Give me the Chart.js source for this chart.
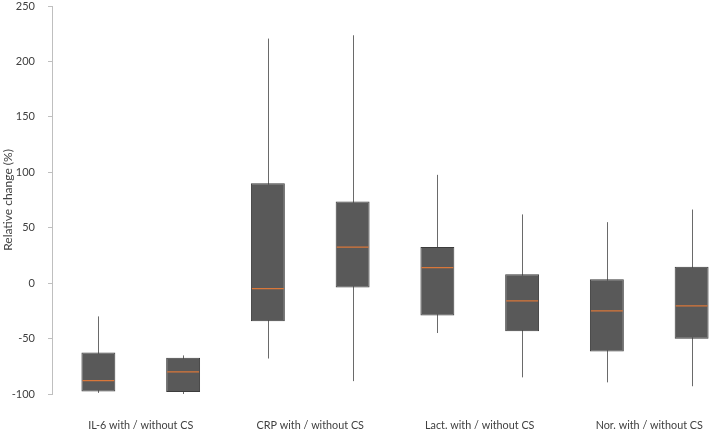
<!DOCTYPE html>
<html>
<head>
<meta charset="utf-8">
<script src="https://cdn.jsdelivr.net/npm/chart.js@4"></script>
<style>
  html, body { margin: 0; padding: 0; background: #fff; overflow: hidden; }
  #wrap { width: 710px; height: 432px; overflow: hidden; }
</style>
</head>
<body>
<div id="wrap"><canvas id="chart" width="734" height="432"></canvas></div>
<script>
const categories = ['IL-6 with / without CS', 'CRP with / without CS', 'Lact. with / without CS', 'Nor. with / without CS'];

// with CS
const withMin    = [-99, -68, -45, -89.5];
const withQ1     = [-97.7, -34.3, -29.1, -61.6];
const withMedian = [-88, -5, 14, -25];
const withQ3     = [-62.5, 90, 32.7, 3.6];
const withMax    = [-30, 220.6, 97.7, 55];

// without CS
const withoutMin    = [-100, -88.4, -85, -93];
const withoutQ1     = [-98.3, -3.9, -43.3, -50.2];
const withoutMedian = [-80, 32.5, -16, -20.5];
const withoutQ3     = [-67.3, 73.7, 8.1, 14.7];
const withoutMax    = [-65.2, 223.6, 62, 66.4];

const yTicks = [-100, -50, 0, 50, 100, 150, 200, 250];

const stats = [
    { min: withMin, median: withMedian, max: withMax },
    { min: withoutMin, median: withoutMedian, max: withoutMax }
];

// whiskers behind the boxes, medians on top
const boxPlot = {
    id: 'boxPlot',
    afterLayout(chart) {
        // axis line sits a few px left of where the first category starts
        const y = chart.scales.y;
        y.left -= 4;
        y.right -= 4;
    },
    beforeDatasetsDraw(chart) {
        const ctx = chart.ctx, y = chart.scales.y;
        ctx.save();
        ctx.strokeStyle = '#6a6a6a';
        ctx.lineWidth = 1;
        stats.forEach((s, d) => {
            chart.getDatasetMeta(d).data.forEach((bar, i) => {
                const x = Math.round(bar.x) + 0.5;
                ctx.beginPath();
                ctx.moveTo(x, y.getPixelForValue(s.max[i]));
                ctx.lineTo(x, y.getPixelForValue(s.min[i]));
                ctx.stroke();
            });
        });
        ctx.restore();
    },
    afterDatasetsDraw(chart) {
        const ctx = chart.ctx, y = chart.scales.y;
        ctx.save();
        ctx.strokeStyle = '#d9773a';
        ctx.lineWidth = 1.2;
        stats.forEach((s, d) => {
            chart.getDatasetMeta(d).data.forEach((bar, i) => {
                const py = y.getPixelForValue(s.median[i]);
                ctx.beginPath();
                ctx.moveTo(bar.x - bar.width / 2 + 1, py);
                ctx.lineTo(bar.x + bar.width / 2 - 1, py);
                ctx.stroke();
            });
        });
        ctx.restore();
    }
};

new Chart(document.getElementById('chart'), {
    type: 'bar',
    data: {
        labels: categories,
        datasets: [
            {
                label: 'with CS',
                data: withQ1.map((v, i) => [v, withQ3[i]]),
                backgroundColor: '#595959',
                borderColor: '#3c3c3c',
                borderWidth: 1,
                borderSkipped: false
            },
            {
                label: 'without CS',
                data: withoutQ1.map((v, i) => [v, withoutQ3[i]]),
                backgroundColor: '#595959',
                borderColor: '#3c3c3c',
                borderWidth: 1,
                borderSkipped: false
            }
        ]
    },
    options: {
        responsive: false,
        animation: false,
        devicePixelRatio: 1,
        layout: { padding: { top: 6, left: 0, right: 0, bottom: 0 } },
        datasets: { bar: { categoryPercentage: 1.0, barPercentage: 0.4 } },
        plugins: {
            legend: { display: false },
            tooltip: { enabled: false }
        },
        scales: {
            x: {
                grid: { display: false, drawTicks: false },
                border: { display: false },
                ticks: {
                    padding: 25,
                    color: '#404040',
                    font: { family: 'Lato', size: 10.8 }
                },
                afterFit(scale) { scale.height = 38; }
            },
            y: {
                min: -100,
                max: 250,
                afterBuildTicks(scale) { scale.ticks = yTicks.map(v => ({ value: v })); },
                grid: { drawOnChartArea: false, tickLength: 4, color: '#bfbfbf' },
                border: { display: true, color: '#bfbfbf' },
                ticks: {
                    padding: 13,
                    color: '#404040',
                    font: { family: 'Lato', size: 11 }
                },
                title: {
                    display: true,
                    text: 'Relative change (%)',
                    color: '#404040',
                    padding: { top: 5, bottom: 0 },
                    font: { family: 'Lato', size: 12 }
                },
                afterFit(scale) {
                    scale.width = 56;
                    scale.paddingTop = 0;
                    scale.paddingBottom = 0;
                }
            }
        }
    },
    plugins: [boxPlot]
});
</script>
</body>
</html>
